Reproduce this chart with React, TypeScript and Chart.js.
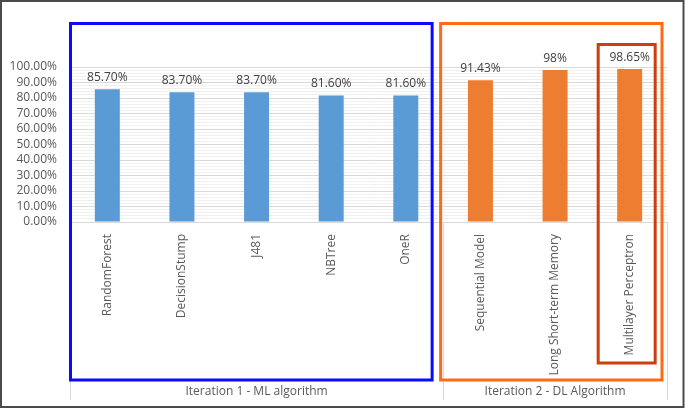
import React, { useEffect, useRef } from "react";
import { Chart, registerables } from "chart.js";

Chart.register(...registerables);

const categories = [
  "RandomForest",
  "DecisionStump",
  "J481",
  "NBTree",
  "OneR",
  "Sequential Model",
  "Long Short-term Memory",
  "Multilayer Perceptron",
];
const accuracy = [85.7, 83.7, 83.7, 81.6, 81.6, 91.43, 98, 98.65];
const valueLabels = ["85.70%", "83.70%", "83.70%", "81.60%", "81.60%", "91.43%", "98%", "98.65%"];
const groupNames = ["Iteration 1 - ML algorithm", "Iteration 2 - DL Algorithm"];
const groupSizes = [5, 3];
const barColors = ["#5b9bd5", "#5b9bd5", "#5b9bd5", "#5b9bd5", "#5b9bd5", "#ed7d31", "#ed7d31", "#ed7d31"];

const FONT = "'Open Sans', sans-serif";

function meta(chart: any) {
  return chart.getDatasetMeta(0);
}

const decorPlugin = {
  id: "decor",
  afterDatasetsDraw(chart: any) {
    const ctx = chart.ctx;
    ctx.save();
    ctx.font = `12px ${FONT}`;
    ctx.fillStyle = "#404040";
    ctx.textAlign = "center";
    ctx.textBaseline = "alphabetic";
    meta(chart).data.forEach((bar: any, i: number) => {
      ctx.fillText(valueLabels[i], bar.x, bar.y - 8.5);
    });
    ctx.restore();
  },
  afterDraw(chart: any) {
    const ctx = chart.ctx;
    const xs = chart.scales.x;
    const area = chart.chartArea;
    const step = (xs.right - xs.left) / categories.length;
    ctx.save();
    const bounds: number[] = [xs.left];
    let acc = 0;
    groupSizes.forEach((n) => {
      acc += n;
      bounds.push(xs.left + acc * step);
    });
    ctx.strokeStyle = "#d9d9d9";
    ctx.lineWidth = 1;
    bounds.forEach((bx) => {
      const px = Math.round(bx) + 0.5;
      ctx.beginPath();
      ctx.moveTo(px, area.bottom);
      ctx.lineTo(px, 400);
      ctx.stroke();
    });
    ctx.font = `12px ${FONT}`;
    ctx.fillStyle = "#595959";
    ctx.textAlign = "center";
    ctx.textBaseline = "middle";
    groupNames.forEach((g, i) => {
      ctx.fillText(g, (bounds[i] + bounds[i + 1]) / 2, 392);
    });

    const b1 = bounds[1];
    ctx.lineWidth = 3;
    ctx.strokeStyle = "#0a0aff";
    ctx.strokeRect(xs.left + 0.5, 23.5, b1 - 11 - (xs.left + 0.5), 380 - 23.5);
    ctx.strokeStyle = "#ff6a14";
    ctx.strokeRect(b1 - 2.5, 23.5, xs.right - 5 - (b1 - 2.5), 380 - 23.5);
    const last = meta(chart).data[categories.length - 1];
    ctx.strokeStyle = "#cc3f0c";
    ctx.strokeRect(last.x - 31.5, 44.5, 57, 363 - 44.5);

    ctx.lineWidth = 2;
    ctx.strokeStyle = "#4a4a4a";
    ctx.strokeRect(1, 1, 682.5, 406);
    ctx.restore();
  },
};

export default function App() {
  const ref = useRef<HTMLCanvasElement>(null);
  useEffect(() => {
    if (!ref.current) return;
    const chart = new Chart(ref.current, {
      type: "bar",
      data: {
        labels: categories,
        datasets: [
          {
            data: accuracy,
            backgroundColor: barColors,
            barPercentage: 0.335,
            categoryPercentage: 1,
          },
        ],
      },
      plugins: [decorPlugin],
      options: {
        responsive: false,
        animation: false,
        devicePixelRatio: 1,
        layout: { padding: { left: 0, top: 67, right: 18, bottom: 0 } },
        plugins: { legend: { display: false }, tooltip: { enabled: false } },
        scales: {
          x: {
            grid: { display: false },
            border: { display: true, color: "#d9d9d9" },
            ticks: {
              autoSkip: false,
              minRotation: 90,
              maxRotation: 90,
              padding: 4,
              color: "#595959",
              font: { family: FONT, size: 12 },
            },
            afterFit(scale: any) {
              scale.height = 409 - 222;
            },
          },
          y2: {
            position: "left",
            min: 0,
            max: 100,
            ticks: { display: false, stepSize: 2, autoSkip: false },
            grid: {
              drawTicks: false,
              color: (c: any) => (Math.round(c.tick.value) % 10 === 0 ? "rgba(0,0,0,0)" : "#f0f0f0"),
            },
            border: { display: false },
            afterFit(scale: any) {
              scale.width = 0;
            },
          },
          y: {
            position: "left",
            min: 0,
            max: 100,
            ticks: {
              stepSize: 10,
              autoSkip: false,
              padding: 13,
              color: "#595959",
              font: { family: FONT, size: 12 },
              callback: (v: any) => Number(v).toFixed(2) + "%",
            },
            grid: { drawTicks: false, color: "#d9d9d9" },
            border: { display: false },
            afterFit(scale: any) {
              scale.width = 70;
            },
          },
        },
      },
    });
    return () => chart.destroy();
  }, []);
  return (
    <div style={{ position: "absolute", left: 0, top: 0, width: 685, height: 409, background: "#fff" }}>
      <canvas ref={ref} width={685} height={409} />
    </div>
  );
}
